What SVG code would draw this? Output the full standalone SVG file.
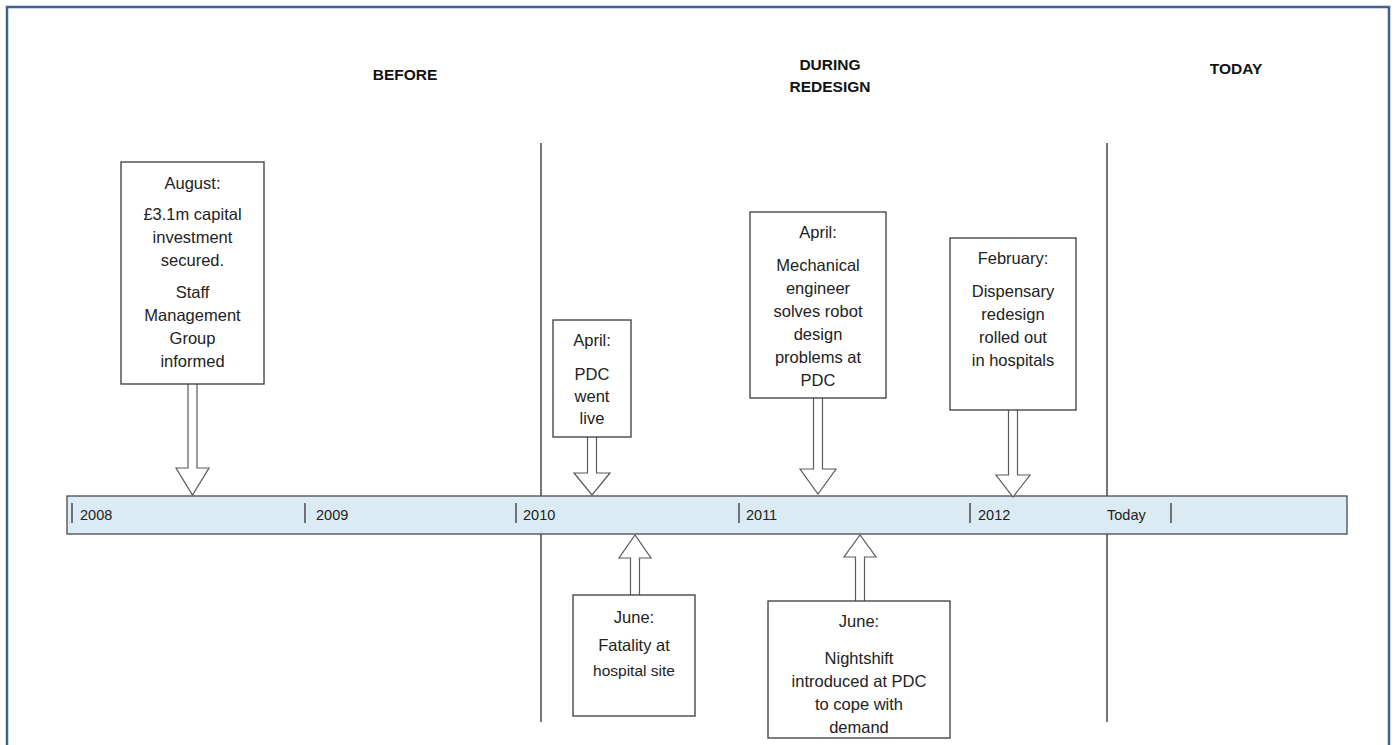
<svg xmlns="http://www.w3.org/2000/svg" width="1395" height="745" viewBox="0 0 1395 745">
  <style>
    .frame { fill: none; stroke: #3b6395; stroke-width: 2.5; }
    .era { stroke: #3a3a3a; stroke-width: 1.4; }
    .bar { fill: #dbebf3; stroke: #4a4a4a; stroke-width: 1.3; }
    .tick { stroke: #333; stroke-width: 1.3; }
    .box { fill: #ffffff; stroke: #3a3a3a; stroke-width: 1.3; }
    .arrow { fill: #ffffff; stroke: #5a5a5a; stroke-width: 1.2; stroke-linejoin: miter; }
    .head { font-family: "Liberation Sans", Arial, sans-serif; font-weight: bold; font-size: 15.5px; fill: #111; text-anchor: middle; }
    .year { font-family: "Liberation Sans", Arial, sans-serif; font-size: 14.5px; fill: #222; }
    .txt { font-family: "Liberation Sans", Arial, sans-serif; font-size: 16.5px; fill: #222; text-anchor: middle; }
  </style>

  <rect x="0" y="0" width="1395" height="745" fill="#ffffff"/>
  <rect class="frame" x="7" y="7" width="1382" height="770"/>

  <!-- section headings -->
  <g id="headings">
    <text class="head" x="405" y="80">BEFORE</text>
    <text class="head" x="830" y="70">DURING</text>
    <text class="head" x="830" y="92">REDESIGN</text>
    <text class="head" x="1236" y="74">TODAY</text>
  </g>

  <!-- era dividers -->
  <g id="dividers">
    <line class="era" x1="541" y1="143" x2="541" y2="722"/>
    <line class="era" x1="1107" y1="143" x2="1107" y2="722"/>
  </g>

  <!-- timeline bar -->
  <g id="timeline">
    <rect class="bar" x="67" y="496" width="1280" height="38"/>
    <line class="tick" x1="72" y1="503" x2="72" y2="523"/>
    <text class="year" x="80" y="520">2008</text>
    <line class="tick" x1="305" y1="503" x2="305" y2="523"/>
    <text class="year" x="316" y="520">2009</text>
    <line class="tick" x1="516" y1="503" x2="516" y2="523"/>
    <text class="year" x="523" y="520">2010</text>
    <line class="tick" x1="739" y1="503" x2="739" y2="523"/>
    <text class="year" x="746" y="520">2011</text>
    <line class="tick" x1="970" y1="503" x2="970" y2="523"/>
    <text class="year" x="978" y="520">2012</text>
    <text class="year" x="1107" y="520">Today</text>
    <line class="tick" x1="1171" y1="503" x2="1171" y2="523"/>
  </g>

  <!-- block arrows linking events to the timeline -->
  <g id="connectors">
    <path class="arrow" d="M188,384 V468 H176 L192.5,495 L209,468 H197 V384"/>
    <path class="arrow" d="M587.5,437 V473 H574 L592,495 L610,473 H596.5 V437"/>
    <path class="arrow" d="M813.5,398 V469 H800 L818,494 L836,469 H822.5 V398"/>
    <path class="arrow" d="M1008.5,410 V475 H996 L1013,497 L1030,475 H1017.5 V410"/>
    <path class="arrow" d="M630.5,595 V558 H619 L635,535 L651,558 H639.5 V595"/>
    <path class="arrow" d="M855.5,601 V557 H844 L860,535 L876,557 H864.5 V601"/>
  </g>

  <g id="event-aug-2008">
    <rect class="box" x="121" y="162" width="143" height="222"/>
    <text class="txt" x="192.5" y="189">August:</text>
    <text class="txt" x="192.5" y="220">£3.1m capital</text>
    <text class="txt" x="192.5" y="243">investment</text>
    <text class="txt" x="192.5" y="266">secured.</text>
    <text class="txt" x="192.5" y="298">Staff</text>
    <text class="txt" x="192.5" y="321">Management</text>
    <text class="txt" x="192.5" y="344">Group</text>
    <text class="txt" x="192.5" y="367">informed</text>
  </g>

  <g id="event-apr-2010">
    <rect class="box" x="553" y="320" width="78" height="117"/>
    <text class="txt" x="592" y="346">April:</text>
    <text class="txt" x="592" y="380">PDC</text>
    <text class="txt" x="592" y="402">went</text>
    <text class="txt" x="592" y="424">live</text>
  </g>

  <g id="event-jun-2010">
    <rect class="box" x="573" y="595" width="122" height="121"/>
    <text class="txt" x="634" y="623">June:</text>
    <text class="txt" x="634" y="651">Fatality at</text>
    <text class="txt" x="634" y="676" style="font-size:15.5px">hospital site</text>
  </g>

  <g id="event-apr-2011">
    <rect class="box" x="750" y="212" width="136" height="186"/>
    <text class="txt" x="818" y="238">April:</text>
    <text class="txt" x="818" y="271">Mechanical</text>
    <text class="txt" x="818" y="294">engineer</text>
    <text class="txt" x="818" y="317">solves robot</text>
    <text class="txt" x="818" y="340">design</text>
    <text class="txt" x="818" y="363">problems at</text>
    <text class="txt" x="818" y="386">PDC</text>
  </g>

  <g id="event-jun-2011">
    <rect class="box" x="768" y="601" width="182" height="137"/>
    <text class="txt" x="859" y="627">June:</text>
    <text class="txt" x="859" y="664">Nightshift</text>
    <text class="txt" x="859" y="687">introduced at PDC</text>
    <text class="txt" x="859" y="710">to cope with</text>
    <text class="txt" x="859" y="733">demand</text>
  </g>

  <g id="event-feb-2012">
    <rect class="box" x="950" y="238" width="126" height="172"/>
    <text class="txt" x="1013" y="264">February:</text>
    <text class="txt" x="1013" y="297">Dispensary</text>
    <text class="txt" x="1013" y="320">redesign</text>
    <text class="txt" x="1013" y="343">rolled out</text>
    <text class="txt" x="1013" y="366">in hospitals</text>
  </g>
</svg>
